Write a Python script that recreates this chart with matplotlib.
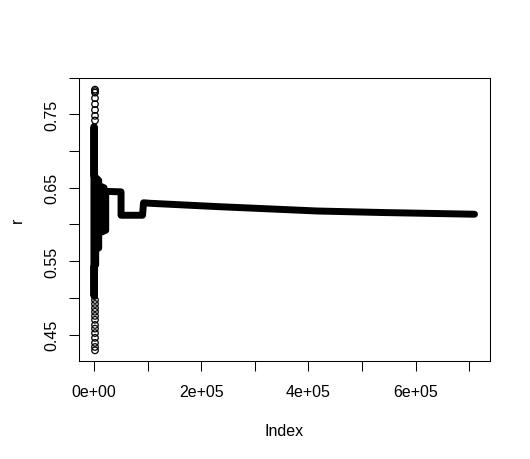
import matplotlib
matplotlib.use("Agg")
import matplotlib.pyplot as plt
import numpy as np

plt.rcParams["font.family"] = ["Liberation Sans", "DejaVu Sans"]

# isolated early points (open circles) near Index ~ 0
early_idx = 2000
early_high_r = [0.7837, 0.7817, 0.7796, 0.772, 0.764, 0.756, 0.748, 0.7416]
early_low_r = [0.497, 0.4916, 0.486, 0.481, 0.4753, 0.470, 0.463, 0.458,
               0.452, 0.4454, 0.4386, 0.433, 0.4284]

# envelope of the dense early oscillation (index, r)
band_idx = [300, 300, 8900, 8900, 18800, 18800, 22000, 22000, 8900, 8900,
            3300, 3300, 300, 300, 0, 0]
band_r = [0.7334, 0.666, 0.660, 0.653, 0.650, 0.645, 0.640, 0.592, 0.588,
          0.568, 0.566, 0.545, 0.543, 0.5024, 0.5024, 0.7334]

# settled running value
trace_idx = [18800, 50600, 50600, 90700, 92500, 105000, 230000, 416800,
             540000, 710000]
trace_r = [0.6451, 0.6444, 0.6125, 0.6125, 0.6295, 0.6288, 0.6243, 0.6183,
           0.6162, 0.6139]

x_ticks = [0, 100000, 200000, 300000, 400000, 500000, 600000, 700000]
x_labels = ["0e+00", "", "2e+05", "", "4e+05", "", "6e+05", ""]
y_ticks = [0.45, 0.50, 0.55, 0.60, 0.65, 0.70, 0.75, 0.80]
y_labels = ["0.45", "", "0.55", "", "0.65", "", "0.75", ""]

fig = plt.figure(figsize=(5.3, 4.6), dpi=100)
ax = fig.add_axes([0.1485, 0.2135, 0.7755, 0.6155])

ax.fill(band_idx, band_r, facecolor="black", edgecolor="black",
        linewidth=5, joinstyle="round")
ax.plot(trace_idx, trace_r, color="black", linewidth=5,
        solid_capstyle="round", solid_joinstyle="round")
ax.plot([300, 300], [band_r[0], band_r[13]], color="black", linewidth=5,
        solid_capstyle="round")
all_early = early_high_r + early_low_r
ax.scatter([early_idx] * len(all_early), all_early, s=22,
           facecolors="none", edgecolors="black", linewidths=0.9, zorder=3)

# R-style 4% padding around the data range
xmin, xmax = 1, trace_idx[-1]
ymin, ymax = min(all_early), max(all_early)
ax.set_xlim(xmin - 0.04 * (xmax - xmin), xmax + 0.04 * (xmax - xmin))
ax.set_ylim(ymin - 0.04 * (ymax - ymin), ymax + 0.04 * (ymax - ymin))

ax.set_xticks(x_ticks)
ax.set_xticklabels(x_labels)
ax.set_yticks(y_ticks)
ax.set_yticklabels(y_labels, rotation=90, va="center")
ax.tick_params(direction="out", length=7, width=0.75, labelsize=11.5,
               color="black")
ax.tick_params(axis="x", pad=10)
ax.tick_params(axis="y", pad=7)
for s in ax.spines.values():
    s.set_linewidth(0.75)

ax.set_xlabel("Index", fontsize=11.5, labelpad=17)
ax.set_ylabel("r", fontsize=11.5, labelpad=14)

fig.savefig("out.png", dpi=100)
